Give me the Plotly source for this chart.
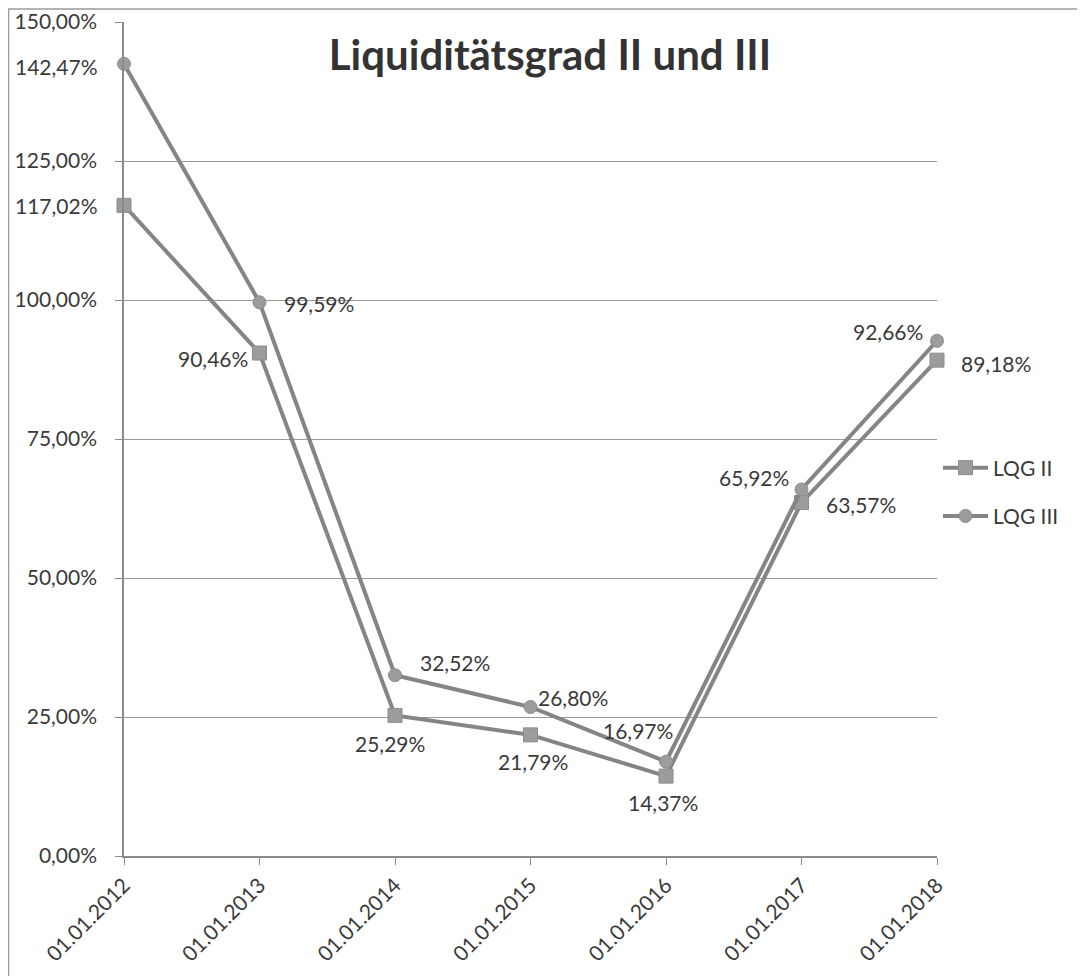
import plotly.graph_objects as go

categories = ["01.01.2012", "01.01.2013", "01.01.2014", "01.01.2015",
              "01.01.2016", "01.01.2017", "01.01.2018"]
lqg2 = [117.02, 90.46, 25.29, 21.79, 14.37, 63.57, 89.18]
lqg3 = [142.47, 99.59, 32.52, 26.80, 16.97, 65.92, 92.66]

# label placement (style): (xanchor, xshift px, yshift px)
place2 = [("right", -24, 0), ("right", -10, -5), ("center", -5, -28), ("center", 2, -27),
          ("center", -3, -26), ("left", 22, -2), ("left", 22, -3)]
place3 = [("right", -24, -3), ("left", 22, -1), ("left", 23, 13), ("left", 5, 9),
          ("right", 9, 31), ("right", -11, 12), ("right", -12, 9)]

FONT = "Lato"
TXT = "#3a3a3a"
LINE = "#858585"
MFILL = "#9c9c9c"
FS = 21

def lab(v):
    return f"{v:.2f}%".replace(".", ",")

fig = go.Figure()
fig.add_trace(go.Scatter(
    x=categories, y=lqg2, name="LQG II", mode="lines+markers", legendgroup="a",
    line=dict(color=LINE, width=4),
    marker=dict(symbol="square", size=14, color=MFILL, line=dict(color="#8c8c8c", width=1)),
    cliponaxis=False,
))
fig.add_trace(go.Scatter(
    x=categories, y=lqg3, name="LQG III", mode="lines+markers", legendgroup="b",
    line=dict(color=LINE, width=4),
    marker=dict(symbol="circle", size=13, color=MFILL, line=dict(color="#8c8c8c", width=1)),
    cliponaxis=False,
))

annotations = []
for series, places in ((lqg2, place2), (lqg3, place3)):
    for cat, v, (xa, xs, ys) in zip(categories, series, places):
        annotations.append(dict(
            x=cat, y=v, xref="x", yref="y", text=lab(v), showarrow=False,
            xanchor=xa, yanchor="middle", xshift=xs, yshift=ys,
            font=dict(family=FONT, size=FS, color=TXT),
        ))

# the page body has an 8px margin; figure pixel = screen pixel - 8
OFF = 8
W, H = 1085 - OFF, 976 - OFF
L, T = 124 - OFF, 22 - OFF
R = W - (937 - OFF)
B = H - (856 - OFF)
pw, ph = W - L - R, H - T - B

def px(x):
    return (x - OFF - L) / pw

def py(y):
    return (H - B - (y - OFF)) / ph

fig.update_layout(
    width=W, height=H,
    margin=dict(l=L, r=R, t=T, b=B, autoexpand=False),
    paper_bgcolor="white", plot_bgcolor="white",
    separators=",.",
    font=dict(family=FONT, size=FS, color=TXT),
    title=dict(text="<b>Liquiditätsgrad II und III</b>", x=px(550),
               xref="paper", xanchor="center", y=1 - (55 - OFF) / H, yanchor="middle",
               font=dict(family=FONT, size=42, color="#333333")),
    showlegend=True,
    legend=dict(x=px(938), y=py(492), xanchor="left", yanchor="middle",
                font=dict(family=FONT, size=FS, color=TXT),
                bgcolor="rgba(0,0,0,0)", tracegroupgap=18, itemwidth=45),
    xaxis=dict(type="category", range=[0, 6], showline=True, linecolor="#8a8a8a",
               linewidth=1.5, ticks="outside", ticklen=7, tickcolor="#8a8a8a",
               tickangle=-45, showgrid=False, automargin=False,
               tickfont=dict(family=FONT, size=FS, color=TXT)),
    yaxis=dict(range=[0, 150], dtick=25, tickformat=".2f", ticksuffix="%",
               showline=True, linecolor="#8a8a8a", linewidth=1.5, ticks="outside",
               ticklen=7, tickcolor="#8a8a8a", showgrid=True, gridcolor="#9a9a9a",
               gridwidth=1, zeroline=False, ticklabelstandoff=14, automargin=False,
               tickfont=dict(family=FONT, size=FS, color=TXT)),
    annotations=annotations,
    shapes=[
        dict(type="line", xref="paper", yref="paper", x0=px(8), x1=px(1085), y0=py(9), y1=py(9),
             line=dict(color="#9a9a9a", width=1.5)),
        dict(type="line", xref="paper", yref="paper", x0=px(8.5), x1=px(8.5), y0=py(9), y1=py(976),
             line=dict(color="#9a9a9a", width=1.5)),
    ],
)

fig.write_html("out.html")
